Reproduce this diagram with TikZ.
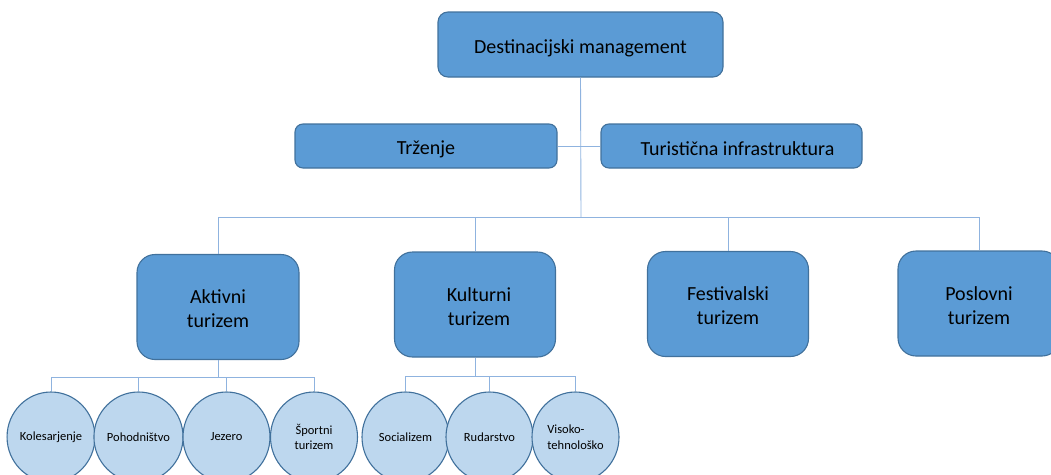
\documentclass[tikz,border=0pt]{standalone}
\usepackage{fontspec}
\setmainfont{Carlito}
\usetikzlibrary{shapes.geometric}
\definecolor{boxfill}{HTML}{5B9BD5}
\definecolor{boxline}{HTML}{41719C}
\definecolor{circfill}{HTML}{BDD7EE}
\definecolor{conn}{HTML}{8FB3DF}
\tikzset{
  mainbox/.style={draw=boxline, fill=boxfill, line width=1.1pt, rounded corners=10pt,
    inner sep=0pt},
  catbox/.style={draw=boxline, fill=boxfill, line width=1.1pt, rounded corners=18pt,
    inner sep=0pt, minimum width=162pt, minimum height=105pt},
  boxtext/.style={inner sep=0pt, align=center, font=\fontsize{20}{24}\selectfont},
  subcirc/.style={ellipse, draw=boxline, fill=circfill, line width=1.1pt,
    inner sep=0pt, minimum width=87pt, minimum height=90pt, align=center,
    font=\fontsize{12.5}{15.5}\selectfont},
  link/.style={draw=conn, line width=0.9pt}
}
\begin{document}
\begin{tikzpicture}[x=1pt,y=-1pt]
\useasboundingbox (0,0) rectangle (1051,474);
% top level
\node[mainbox, minimum width=285pt, minimum height=65pt] (top) at (580.5,44.5) {};
\node[boxtext] (topt) at ([yshift=-4pt]top.center) {Destinacijski management};
\node[mainbox, rounded corners=8pt, minimum width=262pt, minimum height=44pt] (trz) at (426,146) {};
\node[boxtext] (trzt) at ([yshift=-3pt]trz.center) {Trženje};
\node[mainbox, rounded corners=8pt, minimum width=261pt, minimum height=44pt] (tur) at (731.5,146) {};
\node[boxtext] (turt) at ([xshift=6pt,yshift=-3pt]tur.center) {Turistična infrastruktura};
% categories
\node[catbox] (akt) at (218,307) {};
\node[boxtext] (aktt) at ([yshift=-2pt]akt.center) {Aktivni\\turizem};
\node[catbox, minimum width=161pt] (kul) at (475,304.5) {};
\node[boxtext] (kult) at ([xshift=4pt,yshift=-2pt]kul.center) {Kulturni\\turizem};
\node[catbox, minimum width=161pt] (fes) at (728,304) {};
\node[boxtext] (fest) at ([yshift=-2pt]fes.center) {Festivalski\\turizem};
\node[catbox] (pos) at (979,303.5) {};
\node[boxtext] (post) at ([yshift=-2pt]pos.center) {Poslovni\\turizem};
% circles
\node[subcirc] (c1) at (51,437) {Kolesarjenje};
\node[subcirc] (c2) at (138.5,437) {Pohodništvo};
\node[subcirc] (c3) at (226.5,437) {Jezero};
\node[subcirc] (c4) at (314,437) {Športni\\turizem};
\node[subcirc] (c5) at (405.5,437) {Socializem};
\node[subcirc] (c6) at (489.5,437) {Rudarstvo};
\node[subcirc, align=left] (c7) at (575.5,437) {Visoko-\\tehnološko};
% connectors
\coordinate (bus) at (581,217);
\coordinate (busA) at (0,377);
\coordinate (busK) at (0,376);
\draw[link] (top.south) -- (bus);
\draw[link] (trz.east) -- (tur.west);
\draw[link] (akt.north) -- (akt.north |- bus) -- (pos.north |- bus) -- (pos.north);
\draw[link] (kul.north) -- (kul.north |- bus);
\draw[link] (fes.north) -- (fes.north |- bus);
\draw[link] (akt.south) -- (akt.south |- busA);
\draw[link] (c1.north) -- (c1.north |- busA) -- (c4.north |- busA) -- (c4.north);
\draw[link] (c2.north) -- (c2.north |- busA);
\draw[link] (c3.north) -- (c3.north |- busA);
\draw[link] (kul.south) -- (kul.south |- busK);
\draw[link] (c5.north) -- (c5.north |- busK) -- (c7.north |- busK) -- (c7.north);
\draw[link] (c6.north) -- (c6.north |- busK);
\end{tikzpicture}
\end{document}
